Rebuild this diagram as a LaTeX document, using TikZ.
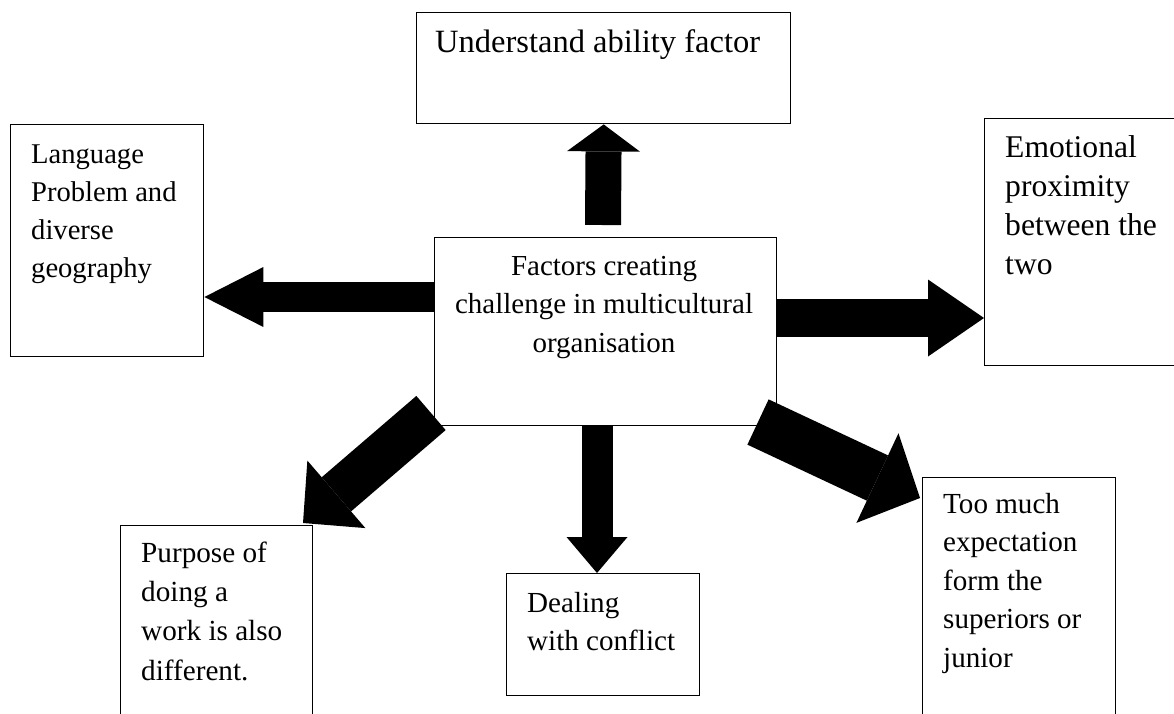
\documentclass[tikz,border=0pt]{standalone}
\usepackage{fontspec}
\setmainfont{Liberation Serif}
\usetikzlibrary{arrows.meta}
\begin{document}
\begin{tikzpicture}[x=1pt,y=-1pt,
  box/.style={draw, line width=1.4pt, rectangle, inner sep=0pt, anchor=north west},
  txt/.style 2 args={inner sep=0pt, anchor=north west, align=left,
              font=\fontsize{#1}{#2}\selectfont},
  fat/.style n args={3}{line width=#1pt,
              -{Triangle[length=#3pt, width=#2pt, line width=0pt]}}
]
\useasboundingbox (0,0) rectangle (1174,713);
\clip (0,0) rectangle (1174,713);

% boxes
\node[box, minimum width=374pt, minimum height=111pt] (ability)  at (416,12)  {};
\node[box, minimum width=193pt, minimum height=232pt] (language) at (10,124)  {};
\node[box, minimum width=342pt, minimum height=188pt] (hub)      at (434,237) {};
\node[box, minimum width=220pt, minimum height=247pt] (emotion)  at (984,118) {};
\node[box, minimum width=192pt, minimum height=230pt] (purpose)  at (120,525) {};
\node[box, minimum width=193pt, minimum height=122pt] (dealing)  at (506,573) {};
\node[box, minimum width=193pt, minimum height=260pt] (toomuch)  at (922,477) {};

% texts (each starts with a strut so the first baseline sits 0.7 baselineskip below the top)
\node[txt={32.5}{38.5}] (tAbility)  at (435,25.1)  {\strut Understand ability factor};
\node[txt={28.6}{38}]   (tLanguage) at (31,136.4)  {\strut Language\\Problem and\\diverse\\geography};
\node[txt={29}{38.5}, anchor=north, align=center] (tHub) at (604,248.1)
  {\strut Factors creating\\challenge in multicultural\\organisation};
\node[txt={31.6}{39}]   (tEmotion)  at (1005,129.7) {\strut Emotional\\proximity\\between the\\two};
\node[txt={29.2}{39.3}] (tPurpose)  at (141,534.5) {\strut Purpose of\\doing a\\work is also\\different.};
\node[txt={29.1}{38}]   (tDealing)  at (527,585.4) {\strut Dealing\\with conflict};
\node[txt={29.1}{38.5}] (tTooMuch)  at (943,486)   {\strut Too much\\expectation\\form the\\superiors or\\junior};

% arrow tails and the free ends of the slanted arrows
\coordinate (upTail)    at (603,225);
\coordinate (leftTail)  at (434,297);
\coordinate (rightTail) at (776,318);
\coordinate (downTail)  at (597,425);
\coordinate (dlTail)    at (431,413);
\coordinate (dlTip)     at (303,523);
\coordinate (drTail)    at (758,422);
\coordinate (drTip)     at (920,498);

% block arrows
\draw[fat={36}{73}{27}] (upTail) -- (ability.south);
\draw[fat={30}{60}{59}] (leftTail) -- (language.east |- leftTail);
\draw[fat={38}{77}{56}] (rightTail) -- (emotion.west |- rightTail);
\draw[fat={31}{61}{36}] (downTail) -- (dealing.north -| downTail);
\draw[fat={45}{89}{44}] (dlTail) -- (dlTip);
\draw[fat={50}{99}{47}] (drTail) -- (drTip);
\end{tikzpicture}
\end{document}
